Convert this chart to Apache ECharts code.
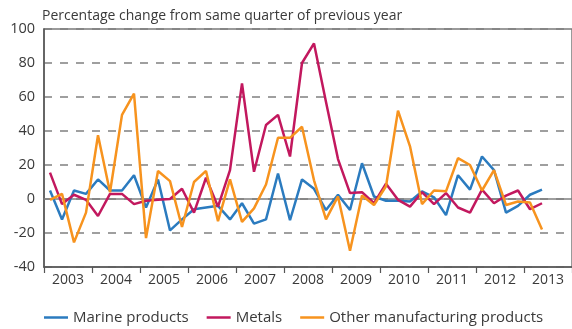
<!DOCTYPE html>
<html><head><meta charset="utf-8">
<script src="https://cdn.jsdelivr.net/npm/echarts@6/dist/echarts.min.js"></script>
<style>html,body{margin:0;padding:0;background:#fff}#c{width:572px;height:329px}</style>
</head><body><div id="c"></div>
<script>
const titleText = 'Percentage change from same quarter of previous year';
const years = ['2003','2004','2005','2006','2007','2008','2009','2010','2011','2012','2013'];
const quarterNames = ['Q1','Q2','Q3','Q4'];
const marine = [5, -12, 5, 3, 11.5, 5, 5, 14, -5, 11.5, -18.5, -12, -6, -5, -4, -12, -2.5, -14.5, -12, 15, -12.5, 11.5, 6, -6.5, 2.5, -6.5, 21, 1.5, -1, -1, -1.5, 4.5, 1, -9.5, 14, 5.5, 25, 17, -8, -4, 2.5, 5.5];
const metals = [15.5, -3, 2.5, -0.5, -10, 3, 3, -3, -1, -0.5, 0, 6, -8, 12.5, -4.5, 17, 68, 16, 43.5, 49.5, 25, 80, 91.5, 57, 23.5, 3.5, 4, -2.5, 9, -0.5, -4.5, 4, -3, 3.5, -5, -8, 5.5, -2.5, 2, 5, -6, -2.5];
const other = [-0.5, 3, -25.5, -8, 37.5, 4, 49.5, 62, -23, 16.5, 10.5, -16.5, 10, 16.5, -13, 11.5, -13.5, -5.5, 8.5, 36, 36, 42.5, 11, -12, 1.5, -30.5, 2, -3.5, 7.5, 52, 31, -3, 5, 4.5, 24, 20, 5, 17, -3.5, -1.5, -2, -18];
const seriesNames = ['Marine products', 'Metals', 'Other manufacturing products'];
const colors = ['#2b7bbf', '#c2185e', '#f7931e'];

const quarters = years.flatMap(y => quarterNames.map(q => y + ' ' + q));
const font = '"Open Sans", "Noto Sans", sans-serif';
const textColor = '#3a3a3a';

const chart = echarts.init(document.getElementById('c'), null, {renderer: 'canvas'});
chart.setOption({
  animation: false,
  backgroundColor: '#fff',
  color: colors,
  textStyle: {fontFamily: font},
  title: {
    text: titleText, left: 42, top: 9, padding: 0,
    textStyle: {fontSize: 14, fontWeight: 'normal', color: textColor, fontFamily: font}
  },
  grid: {
    left: 44, top: 29, right: -4, bottom: 62,
    show: true, borderColor: '#7a7a7a', borderWidth: 1.5, backgroundColor: 'transparent'
  },
  legend: {
    left: 44, top: 310, padding: 0,
    itemWidth: 24, itemHeight: 2.5, itemGap: 18,
    icon: 'rect',
    textStyle: {fontSize: 15, color: textColor, fontFamily: font},
    data: seriesNames
  },
  xAxis: [
    {
      type: 'category', data: years, position: 'bottom', boundaryGap: true,
      axisLine: {show: true, onZero: false, lineStyle: {color: '#555', width: 1.5}},
      axisTick: {show: true, length: 6, lineStyle: {color: '#555', width: 1.2}},
      axisLabel: {fontSize: 14, color: textColor, margin: 6, fontFamily: font},
      splitLine: {show: false}
    },
    {
      type: 'category', data: quarters, position: 'top', boundaryGap: true,
      axisLine: {show: true, onZero: true, lineStyle: {color: '#808080', width: 1.5}},
      axisTick: {show: false}, axisLabel: {show: false}, splitLine: {show: false}
    }
  ],
  yAxis: {
    type: 'value', min: -40, max: 100, interval: 20,
    axisLine: {show: true, lineStyle: {color: '#555', width: 1.5}},
    axisTick: {show: false},
    axisLabel: {fontSize: 14.5, color: textColor, margin: 9, fontFamily: font},
    splitLine: {show: true, lineStyle: {color: '#808080', width: 1.5, type: [8, 8]}}
  },
  series: [marine, metals, other].map((d, i) => ({
    name: seriesNames[i], type: 'line', data: d, xAxisIndex: 1,
    showSymbol: false, symbol: 'none',
    lineStyle: {width: 2.5, color: colors[i]},
    itemStyle: {color: colors[i]}
  }))
});
</script></body></html>
